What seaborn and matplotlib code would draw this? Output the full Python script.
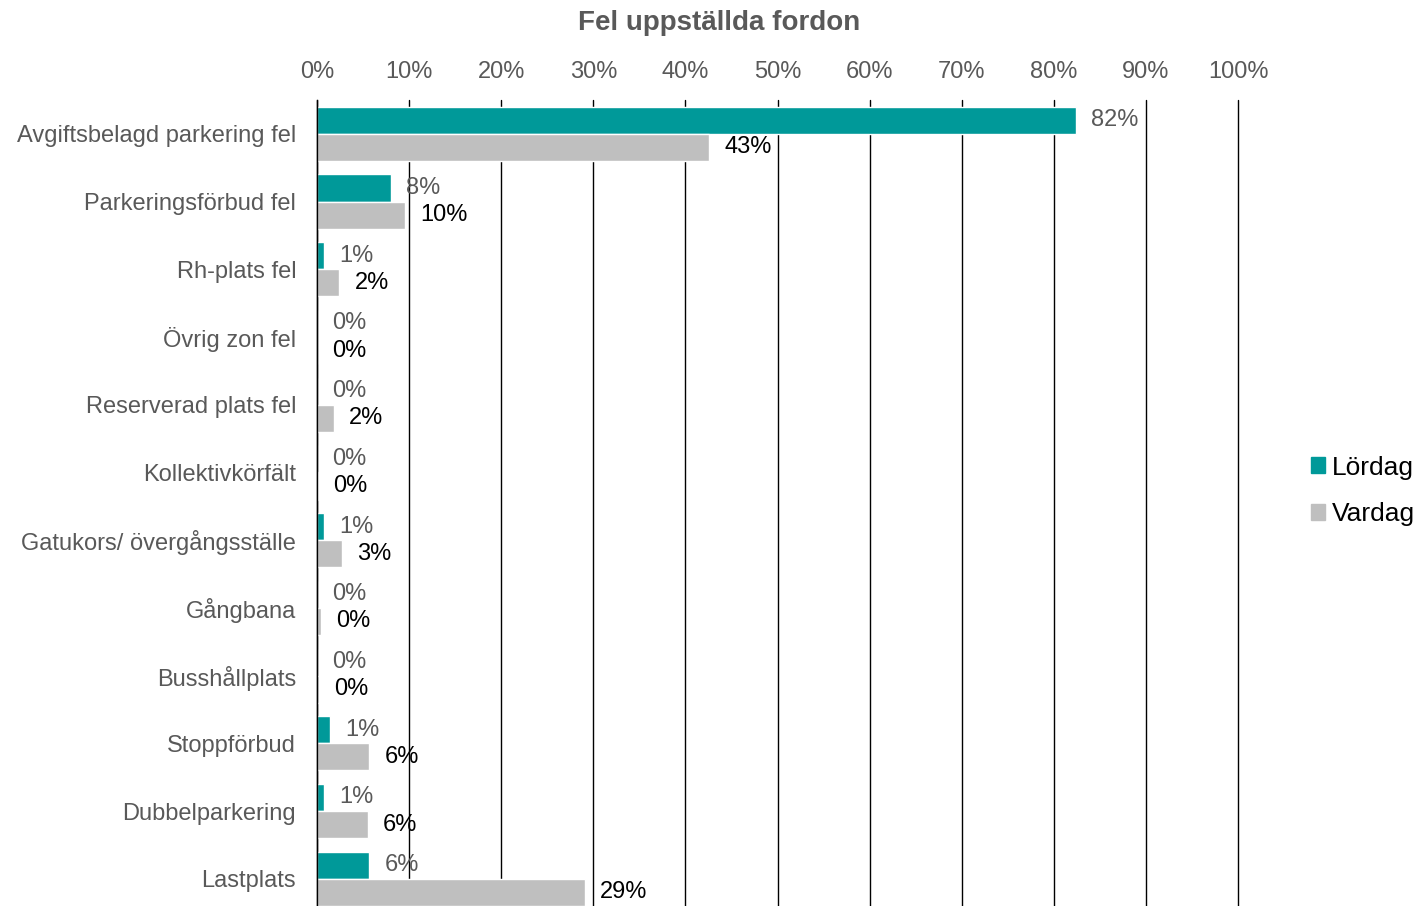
import pandas as pd
import matplotlib
matplotlib.use("Agg")
import matplotlib.pyplot as plt
import matplotlib.patches as mpatches
import seaborn as sns

# Data (percent)
categories = [
    "Avgiftsbelagd parkering fel",
    "Parkeringsförbud fel",
    "Rh-plats fel",
    "Övrig zon fel",
    "Reserverad plats fel",
    "Kollektivkörfält",
    "Gatukors/ övergångsställe",
    "Gångbana",
    "Busshållplats",
    "Stoppförbud",
    "Dubbelparkering",
    "Lastplats",
]
lordag = [82.4, 8.0, 0.8, 0.0, 0.0, 0.0, 0.8, 0.0, 0.0, 1.4, 0.8, 5.7]
vardag = [42.6, 9.6, 2.4, 0.0, 1.8, 0.1, 2.7, 0.4, 0.2, 5.7, 5.5, 29.1]
series = ["Lördag", "Vardag"]
colors = {"Lördag": "#009999", "Vardag": "#BFBFBF"}
label_colors = {"Lördag": "#595959", "Vardag": "#000000"}
xticks = list(range(0, 101, 10))

df = pd.DataFrame({
    "Kategori": categories * 2,
    "Serie": ["Lördag"] * len(categories) + ["Vardag"] * len(categories),
    "Andel": lordag + vardag,
})

sns.set_style("white")
plt.rcParams["font.family"] = ["Liberation Sans", "DejaVu Sans"]

fig = plt.figure(figsize=(14.2, 9.06), dpi=100)
ax = fig.add_axes([317 / 1420, -6.6 / 906, 921 / 1420, 812.6 / 906])

sns.barplot(data=df, y="Kategori", x="Andel", hue="Serie", hue_order=series,
            palette=colors, orient="h", width=0.8, saturation=1, ax=ax,
            legend=False, errorbar=None)

for cont, name in zip(ax.containers, series):
    vals = lordag if name == "Lördag" else vardag
    ax.bar_label(cont, labels=[f"{round(v):.0f}%" for v in vals], padding=11,
                 fontsize=17, color=label_colors[name])

ax.set_xlim(0, 100)
ax.set_xticks(xticks)
ax.set_xticklabels([f"{t}%" for t in xticks])
ax.xaxis.tick_top()
ax.tick_params(axis="x", length=0, pad=12, labelsize=17, labelcolor="#595959")
ax.tick_params(axis="y", length=0, pad=15, labelsize=17, labelcolor="#595959")
ax.set_xlabel("")
ax.set_ylabel("")

ax.grid(axis="x", color="black", linewidth=1)
ax.grid(axis="y", visible=False)
ax.set_axisbelow(True)
for gl in ax.get_xgridlines():
    gl.set_clip_on(False)
for side in ["top", "right", "bottom"]:
    ax.spines[side].set_visible(False)
ax.spines["left"].set_color("black")
ax.spines["left"].set_linewidth(1)

fig.text(719 / 1420, 1 - 23 / 906, "Fel uppställda fordon", ha="center", va="center",
         fontsize=20, fontweight="bold", color="#595959")

handles = [mpatches.Patch(color=colors[s], label=s) for s in series]
fig.legend(handles=handles, loc="center left", bbox_to_anchor=(1300 / 1420, 1 - 491 / 906),
           frameon=False, fontsize=19, handlelength=0.55, handleheight=0.55,
           handletextpad=0.25, labelspacing=0.85, borderaxespad=0, labelcolor="black")

fig.savefig("out.png", dpi=100)
